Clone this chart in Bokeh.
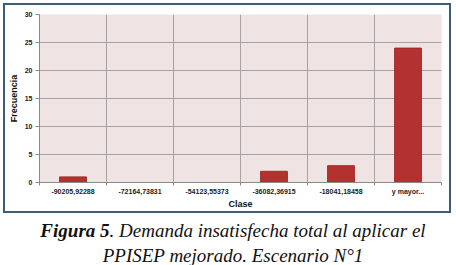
import numpy as np
from bokeh.plotting import figure
from bokeh.layouts import column
from bokeh.models import FixedTicker, Range1d, Div
from bokeh.embed import file_html
from bokeh.resources import INLINE

categories = ["-90205,92288", "-72164,73831", "-54123,55373", "-36082,36915", "-18041,18458", "y mayor..."]
frecuencia = [1, 0, 0, 2, 3, 24]
y_ticks = [0, 5, 10, 15, 20, 25, 30]
caption_bold = "Figura 5"
caption_rest = ". Demanda insatisfecha total al aplicar el"
caption_line2 = "PPISEP mejorado. Escenario N°1"

n = len(categories)
centers = list(np.arange(n) + 0.5)

p = figure(width=444, height=206, output_backend="svg", toolbar_location=None,
           x_range=Range1d(0, n), y_range=Range1d(0, 30),
           min_border_left=30, min_border_right=8, min_border_top=9, min_border_bottom=28)
p.background_fill_color = "#f0e3e3"
p.border_fill_color = "white"
p.outline_line_color = None

p.vbar(x=centers, top=frecuencia, width=0.4, fill_color="#b3312f", line_color="#a62b2a")

p.xaxis.ticker = FixedTicker(ticks=centers, minor_ticks=list(range(n + 1)))
p.xaxis.major_label_overrides = {c: lab for c, lab in zip(centers, categories)}
p.xaxis.major_tick_out = 0
p.xaxis.major_tick_in = 0
p.xaxis.minor_tick_out = 3
p.xaxis.minor_tick_in = 0
p.xaxis.minor_tick_line_color = "#8a8a8a"
p.xgrid.ticker = FixedTicker(ticks=list(range(n + 1)))
p.xgrid.grid_line_color = "#aaa2a2"

p.yaxis.ticker = FixedTicker(ticks=y_ticks)
p.yaxis.major_tick_out = 4
p.yaxis.major_tick_in = 0
p.yaxis.minor_tick_line_color = None
p.ygrid.grid_line_color = "#aaa2a2"

for ax in (p.xaxis, p.yaxis):
    ax.axis_line_color = "#8a8a8a"
    ax.major_tick_line_color = "#8a8a8a"
    ax.major_label_text_font = "Liberation Sans"
    ax.major_label_text_font_style = "bold"
    ax.major_label_text_font_size = "7px"
    ax.major_label_text_color = "#222222"
    ax.axis_label_text_font = "Liberation Sans"
    ax.axis_label_text_font_style = "bold"
    ax.axis_label_text_font_size = "9px"
    ax.axis_label_text_color = "#111111"
p.xaxis.major_label_standoff = 2
p.yaxis.major_label_standoff = 3
p.xaxis.axis_label = "Clase"
p.yaxis.axis_label = "Frecuencia"
p.xaxis.axis_label_standoff = 1
p.yaxis.axis_label_standoff = 3

chart = column(p, styles={"border": "2px solid #3d5c7c", "margin-left": "3px", "margin-top": "3px"})

cap = Div(text=(f"<i><b>{caption_bold}</b>{caption_rest}</i><br><i>{caption_line2}</i>"),
          width=456,
          styles={"font-family": "Liberation Serif", "font-size": "19px", "line-height": "25px",
                  "text-align": "center", "color": "#111111"})

layout = column(chart, cap, spacing=0)
open("out.html", "w").write(file_html(layout, INLINE))
